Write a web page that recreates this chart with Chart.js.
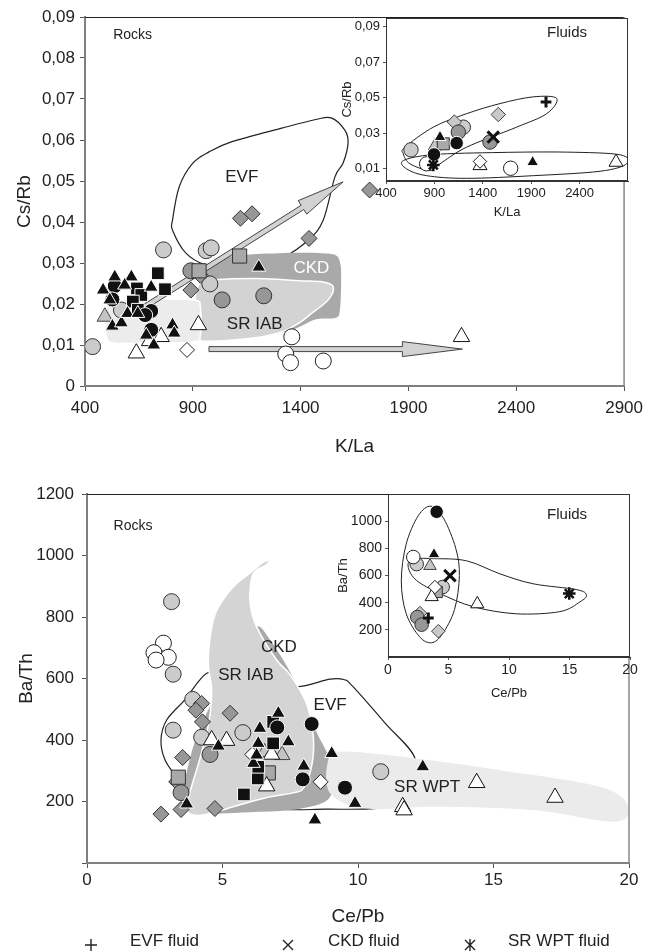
<!DOCTYPE html>
<html>
<head>
<meta charset="utf-8">
<script src="https://cdn.jsdelivr.net/npm/chart.js@4.4.1/dist/chart.umd.min.js"></script>
<style>
  body { margin: 0; background: #fff; }
  #wrap { position: relative; width: 650px; height: 952px; overflow: hidden;
          font-family: "Liberation Sans", Arial, Helvetica, sans-serif; color: #222; }
  canvas { position: absolute; }
  .leg { position: absolute; font-size: 17px; line-height: 20px; white-space: nowrap; }
  .mark { position: absolute; }
</style>
</head>
<body>
<div id="wrap">
  <canvas id="rocks1" width="650" height="470" style="left:0;top:0"></canvas>
  <canvas id="fluids1" width="320" height="225" style="left:330px;top:0"></canvas>
  <canvas id="rocks2" width="650" height="482" style="left:0;top:470px"></canvas>
  <canvas id="fluids2" width="320" height="240" style="left:330px;top:470px"></canvas>

  <svg class="mark" width="14" height="14" style="left:84px;top:938px"><path d="M7 1V13M1 7H13" stroke="#222" stroke-width="1.4"/></svg>
  <div class="leg" style="left:130px;top:931px">EVF fluid</div>
  <svg class="mark" width="14" height="14" style="left:281px;top:938px"><path d="M2 2L12 12M12 2L2 12" stroke="#222" stroke-width="1.4"/></svg>
  <div class="leg" style="left:328px;top:931px">CKD fluid</div>
  <svg class="mark" width="14" height="14" style="left:463px;top:938px"><path d="M2 2L12 12M12 2L2 12M7 1V13" stroke="#222" stroke-width="1.4"/></svg>
  <div class="leg" style="left:508px;top:931px">SR WPT fluid</div>
</div>
<script>
// ---- tick values ----
const kLaTicks = [400, 900, 1400, 1900, 2400, 2900];
const csRbTicks = [0, 0.01, 0.02, 0.03, 0.04, 0.05, 0.06, 0.07, 0.08, 0.09];
const insetKLaTicks = [400, 900, 1400, 1900, 2400];
const insetCsRbTicks = [0.01, 0.03, 0.05, 0.07, 0.09];
const cePbTicks = [0, 5, 10, 15, 20];
const baThTicks = [0, 200, 400, 600, 800, 1000, 1200];
const insetBaThTicks = [200, 400, 600, 800, 1000];

// ---- K/La vs Cs/Rb, rocks ----
const csRockBlackTri = [[484,0.0234],[538,0.0266],[615,0.0266],[584,0.0246],[707,0.0241],[515,0.021],[527,0.0146],[569,0.0154],[597,0.0177],[645,0.0177],[684,0.0124],[719,0.0100],[806,0.0149],[814,0.0129],[1206,0.029]];
const csRockBlackCircle = [[538,0.0244],[527,0.0211],[707,0.0183],[679,0.0173],[707,0.0137]];
const csRockBlackSquare = [[738,0.0275],[771,0.0236],[641,0.0238],[661,0.0222],[622,0.0206],[645,0.0186]];
const csRockWhiteDiamond = [[873,0.0088]];
const csRockWhiteTri = [[926,0.0149],[638,0.0080],[753,0.0120],[700,0.0110],[2146,0.0120]];
const csRockGrayTri = [[492,0.0169]];
const csRockWhiteCircle = [[1359,0.0120],[1331,0.0078],[1353,0.0057],[1505,0.0061]];
const csRockGraySquare = [[929,0.0281],[1117,0.0317]];
const csRockDarkCircle = [[891,0.0281],[1036,0.0210],[1229,0.0220]];
const csRockGrayDiamond = [[891,0.0234],[935,0.0270],[1121,0.0409],[1175,0.0420],[1439,0.0360],[1720,0.0478]];
const csRockLightCircle = [[435,0.0096],[764,0.0332],[962,0.0330],[985,0.0337],[979,0.0249],[569,0.0185]];

// ---- K/La vs Cs/Rb, fluids ----
const csFluidLightCircle = [[658,0.0206],[1199,0.0334]];
const csFluidDarkCircle = [[1147,0.0306],[1474,0.0250]];
const csFluidBlackCircle = [[1130,0.0244],[896,0.0180]];
const csFluidGraySquare = [[992,0.0240]];
const csFluidGrayTri = [[906,0.0227]];
const csFluidBlackTri = [[958,0.0278],[1915,0.0136]];
const csFluidLightDiamond = [[1106,0.0363],[1560,0.0405]];
const csFluidWhiteDiamond = [[1371,0.0140]];
const csFluidWhiteTri = [[1371,0.0117],[2776,0.0136]];
const csFluidWhiteCircle = [[1688,0.0102],[820,0.0127]];
const csFluidEvf = [[2053,0.0476]];
const csFluidCkd = [[1508,0.0278]];
const csFluidWpt = [[889,0.0121]];

// ---- K/La vs Cs/Rb, fields and trends ----
const csEvfOutline = [[975,0.0571],[1082,0.0596],[1313,0.0629],[1470,0.0650],[1542,0.0654],[1605,0.0624],[1620,0.0593],[1597,0.0544],[1559,0.0510],[1505,0.0405],[1436,0.0356],[1313,0.0311],[1206,0.0291],[1083,0.0287],[960,0.0295],[868,0.0324],[806,0.0380],[806,0.0405],[837,0.0486],[899,0.0543]];
const csCkdField = [[940,0.0275],[1000,0.0302],[1100,0.0318],[1300,0.0324],[1500,0.0324],[1565,0.0318],[1585,0.0295],[1588,0.0259],[1582,0.0185],[1560,0.0166],[1467,0.0162],[1350,0.0135],[1150,0.0118],[960,0.0120],[925,0.0200]];
const csIabField = [[935,0.0252],[1000,0.0259],[1200,0.0262],[1390,0.0257],[1500,0.0254],[1551,0.0242],[1528,0.0210],[1451,0.0177],[1390,0.0153],[1300,0.0130],[1150,0.0115],[929,0.0111],[905,0.0150],[912,0.0220]];
const csWptField = [[500,0.0190],[530,0.0208],[700,0.0212],[905,0.0210],[935,0.0192],[935,0.0125],[905,0.0108],[700,0.0105],[530,0.0105],[498,0.0125]];
const csArrowRise = [[667,0.019],[1597,0.0498]];
const csArrowFlat = [[975,0.009],[2150,0.009]];
const csLoopA = [[596,0.0221],[889,0.0334],[1233,0.0410],[1578,0.0467],[1922,0.0505],[2163,0.0496],[2060,0.0410],[1750,0.0334],[1233,0.0221],[958,0.0127],[855,0.0089],[648,0.0127],[579,0.0183]];
const csLoopB = [[579,0.0145],[889,0.0179],[1578,0.0191],[2267,0.0193],[2817,0.0178],[2886,0.0127],[2611,0.0085],[1922,0.0060],[1233,0.0045],[820,0.0060],[614,0.0098]];

// ---- Ce/Pb vs Ba/Th, rocks ----
const baRockBlackTri = [[4.85,380],[3.68,192],[6.38,438],[6.32,389],[7.06,487],[7.43,394],[8.0,315],[8.41,140],[6.14,324],[6.26,351],[9.03,356],[9.89,194],[12.39,313]];
const baRockBlackCircle = [[7.02,441],[8.29,452],[7.96,272],[9.52,245]];
const baRockBlackSquare = [[6.87,389],[6.87,459],[6.30,275],[5.79,223],[6.32,313]];
const baRockWhiteDiamond = [[6.10,353],[8.62,264]];
const baRockWhiteTri = [[4.60,400],[5.15,398],[6.63,250],[6.81,353],[11.65,183],[11.70,172],[14.38,261],[17.27,213]];
const baRockGrayTri = [[7.20,351],[6.55,360]];
const baRockWhiteCircle = [[2.82,715],[2.47,684],[3.00,669],[2.55,660]];
const baRockGraySquare = [[3.37,279],[6.69,293]];
const baRockDarkCircle = [[4.54,353],[3.47,229]];
const baRockGrayDiamond = [[4.23,519],[4.26,459],[4.02,497],[5.28,487],[3.53,343],[3.31,264],[2.73,159],[3.47,174],[4.72,177]];
const baRockLightCircle = [[3.12,850],[3.18,614],[3.90,532],[3.18,432],[4.23,409],[5.75,424],[10.84,297]];

// ---- Ce/Pb vs Ba/Th, fluids ----
const baFluidBlackCircle = [[4.02,1069]];
const baFluidWhiteCircle = [[2.09,736]];
const baFluidLightCircle = [[2.37,684],[4.52,515]];
const baFluidBlackTri = [[3.80,756]];
const baFluidGrayTri = [[3.47,671]];
const baFluidWhiteDiamond = [[3.88,515]];
const baFluidGraySquare = [[4.02,479]];
const baFluidWhiteTri = [[3.61,443],[7.38,390]];
const baFluidDarkCircle = [[2.42,294],[2.78,238]];
const baFluidLightDiamond = [[2.64,323],[4.16,190]];
const baFluidEvf = [[3.33,287]];
const baFluidCkd = [[5.12,599]];
const baFluidWpt = [[14.98,467]];

// ---- Ce/Pb vs Ba/Th, fields ----
const baEvfOutline = [[4.42,617],[3.6,530],[2.94,465],[2.73,400],[2.88,335],[3.3,280],[3.8,220],[5.0,190],[7.25,174],[8.8,175],[10.4,176],[10.9,190],[11.5,265],[12.1,340],[11.0,455],[9.8,575],[9.5,596],[8.97,598],[7.74,573],[6.5,590],[5.2,610]];
const baCkdField = [[6.3,770],[6.8,720],[7.5,620],[8.0,520],[8.5,420],[9.0,330],[9.1,260],[8.8,200],[7.5,172],[6.0,165],[4.5,163],[3.6,190],[3.6,260],[4.0,400],[4.6,520],[5.3,620],[5.9,720]];
const baIabField = [[6.75,985],[6.45,975],[5.9,935],[5.39,898],[4.9,840],[4.66,790],[4.5,700],[4.48,640],[4.6,560],[4.5,460],[4.2,350],[3.8,230],[3.7,170],[4.2,155],[5.4,183],[6.6,212],[7.6,228],[8.0,245],[8.3,320],[8.35,410],[8.1,519],[7.5,612],[7.0,660],[6.26,768],[6.01,855],[6.14,942],[6.6,968]];
const baWptField = [[9.34,362],[11.55,346],[15.24,302],[18.93,248],[19.98,183],[19.42,134],[16.47,172],[12.78,183],[10.32,177],[8.97,227],[8.9,335]];
const baLoopA = [[3.55,1110],[4.6,1020],[5.6,800],[5.9,600],[5.5,350],[4.5,170],[3.6,105],[2.6,150],[1.5,320],[1.1,560],[1.5,830],[2.5,1040]];
const baLoopB = [[2.0,720],[3.75,724],[6.5,708],[9.26,612],[12.0,539],[15.6,496],[16.4,455],[15.87,406],[14.2,334],[10.6,318],[7.05,370],[4.3,467],[2.37,563],[1.68,659]];

const FONT = '"Liberation Sans", Arial, Helvetica, sans-serif';
Chart.defaults.font.family = FONT;
Chart.defaults.color = '#222';

// marker looks
const STYLE = {
  evf:          { shape: 'cross',    fill: '#111', line: '#111', r: 6,   lw: 3 },
  ckd:          { shape: 'crossRot', fill: '#111', line: '#111', r: 9,   lw: 3 },
  wpt:          { shape: 'star',     fill: '#111', line: '#111', r: 7,   lw: 2.5 },
  blackTri:     { shape: 'triangle', fill: '#111', line: '#fff', r: 8 },
  blackCircle:  { shape: 'circle',   fill: '#111', line: '#fff', r: 7.5 },
  blackSquare:  { shape: 'rect',     fill: '#111', line: '#fff', r: 9 },
  whiteDiamond: { shape: 'rectRot',  fill: '#fff', line: '#222', r: 7.5 },
  whiteTri:     { shape: 'triangle', fill: '#fff', line: '#111', r: 9.5 },
  grayTri:      { shape: 'triangle', fill: '#c4c4c4', line: '#444', r: 9 },
  whiteCircle:  { shape: 'circle',   fill: '#fff', line: '#222', r: 8 },
  graySquare:   { shape: 'rect',     fill: '#a9a9a9', line: '#333', r: 10 },
  darkCircle:   { shape: 'circle',   fill: '#979797', line: '#333', r: 8 },
  grayDiamond:  { shape: 'rectRot',  fill: '#979797', line: '#333', r: 8 },
  lightDiamond: { shape: 'rectRot',  fill: '#c9c9c9', line: '#444', r: 8 },
  lightCircle:  { shape: 'circle',   fill: '#cbcbcb', line: '#333', r: 8 }
};

function series(pairs, kind, k) {
  const s = STYLE[kind];
  return {
    data: pairs.map(p => ({ x: p[0], y: p[1] })),
    pointStyle: s.shape,
    pointRadius: s.r * k,
    pointBackgroundColor: s.fill,
    pointBorderColor: s.line,
    pointBorderWidth: s.lw || 1,
    showLine: false
  };
}

// closed smooth curve through pixel points
function smoothPath(ctx, pts) {
  const n = pts.length;
  ctx.moveTo(pts[0][0], pts[0][1]);
  for (let i = 0; i < n; i++) {
    const p0 = pts[(i - 1 + n) % n], p1 = pts[i], p2 = pts[(i + 1) % n], p3 = pts[(i + 2) % n];
    ctx.bezierCurveTo(p1[0] + (p2[0] - p0[0]) / 6, p1[1] + (p2[1] - p0[1]) / 6,
                      p2[0] - (p3[0] - p1[0]) / 6, p2[1] - (p3[1] - p1[1]) / 6,
                      p2[0], p2[1]);
  }
  ctx.closePath();
}

function drawArrow(ctx, a, b, shaft, headLen, headHalf) {
  const dx = b[0] - a[0], dy = b[1] - a[1], L = Math.hypot(dx, dy);
  const ux = dx / L, uy = dy / L, nx = -uy, ny = ux;
  const bx = b[0] - ux * headLen, by = b[1] - uy * headLen;
  ctx.beginPath();
  ctx.moveTo(a[0] + nx * shaft, a[1] + ny * shaft);
  ctx.lineTo(bx + nx * shaft, by + ny * shaft);
  ctx.lineTo(bx + nx * headHalf, by + ny * headHalf);
  ctx.lineTo(b[0], b[1]);
  ctx.lineTo(bx - nx * headHalf, by - ny * headHalf);
  ctx.lineTo(bx - nx * shaft, by - ny * shaft);
  ctx.lineTo(a[0] - nx * shaft, a[1] - ny * shaft);
  ctx.closePath();
  ctx.fillStyle = '#d2d2d2';
  ctx.fill();
  ctx.strokeStyle = '#444';
  ctx.lineWidth = 1;
  ctx.stroke();
}

function overlay(cfg) {
  return {
    id: 'overlay',
    beforeDraw(chart) {
      if (!cfg.inset) return;
      const a = chart.chartArea, ctx = chart.ctx;
      ctx.save();
      ctx.fillStyle = '#fff';
      ctx.fillRect(a.left, a.top, a.width, a.height);
      ctx.restore();
    },
    beforeDatasetsDraw(chart) {
      const { ctx, chartArea: a } = chart;
      const sx = chart.scales.x, sy = chart.scales.y;
      const px = p => [sx.getPixelForValue(p[0]), sy.getPixelForValue(p[1])];
      ctx.save();
      ctx.beginPath();
      ctx.rect(a.left, a.top, a.width, a.height);
      ctx.clip();
      cfg.shapes.forEach(sh => {
        ctx.beginPath();
        smoothPath(ctx, sh.pts.map(px));
        if (sh.fill) { ctx.fillStyle = sh.fill; ctx.fill(); }
        if (sh.stroke) { ctx.strokeStyle = sh.stroke; ctx.lineWidth = sh.width || 1; ctx.stroke(); }
      });
      (cfg.arrows || []).forEach(ar => drawArrow(ctx, px(ar.pts[0]), px(ar.pts[1]), ar.shaft, ar.headLen, ar.headHalf));
      ctx.textAlign = 'center';
      ctx.textBaseline = 'middle';
      (cfg.labels || []).forEach(l => {
        const p = px(l.at);
        ctx.font = l.size + 'px ' + FONT;
        ctx.fillStyle = l.color || '#222';
        ctx.fillText(l.text, p[0], p[1]);
      });
      ctx.restore();
    },
    afterDraw(chart) {
      const { ctx, chartArea: a } = chart;
      ctx.save();
      if (cfg.inset) {
        ctx.strokeStyle = '#333';
        ctx.lineWidth = 1;
        ctx.strokeRect(a.left + 0.5, a.top + 0.5, a.width - 1, a.height - 1);
      } else {
        ctx.strokeStyle = '#222';
        ctx.lineWidth = 1;
        ctx.beginPath();
        ctx.moveTo(a.left, a.top + 0.5);
        ctx.lineTo(a.right, a.top + 0.5);
        ctx.stroke();
        ctx.strokeStyle = '#888';
        ctx.lineWidth = 1.5;
        ctx.beginPath();
        ctx.moveTo(a.right, a.top);
        ctx.lineTo(a.right, a.bottom);
        ctx.stroke();
      }
      ctx.restore();
    }
  };
}

function axes(o) {
  const border = o.inset ? { color: '#333', width: 1 } : { color: '#808080', width: 2 };
  const grid = { drawOnChartArea: false, drawTicks: true, tickLength: o.tickLen, color: '#555' };
  return {
    x: {
      type: 'linear', min: o.xMin, max: o.xMax,
      afterBuildTicks: s => { s.ticks = o.xTicks.map(v => ({ value: v })); },
      afterFit: s => { s.height = o.xHeight; },
      grid: grid, border: border,
      ticks: { font: { size: o.tickSize }, color: '#222', padding: o.xPad, maxRotation: 0, autoSkip: false, callback: o.xFmt },
      title: { display: true, text: o.xTitle, font: { size: o.titleSize }, color: '#222', padding: { top: 0, bottom: o.xTitlePad } }
    },
    y: {
      type: 'linear', min: o.yMin, max: o.yMax,
      afterBuildTicks: s => { s.ticks = o.yTicks.map(v => ({ value: v })); },
      afterFit: s => { s.width = o.yWidth; },
      grid: grid, border: border,
      ticks: { font: { size: o.tickSize }, color: '#222', padding: o.yPad, autoSkip: false, callback: o.yFmt },
      title: { display: true, text: o.yTitle, font: { size: o.titleSize }, color: '#222', padding: { top: o.yTitlePad, bottom: 0 } }
    }
  };
}

function makeChart(id, datasets, scales, padding, cfg) {
  return new Chart(document.getElementById(id), {
    type: 'scatter',
    data: { datasets: datasets },
    options: {
      responsive: false,
      animation: false,
      events: [],
      layout: { padding: padding },
      plugins: { legend: { display: false }, tooltip: { enabled: false } },
      scales: scales
    },
    plugins: [overlay(cfg)]
  });
}

const comma2 = v => (v === 0 ? '0' : v.toFixed(2).replace('.', ','));
const plain = v => String(v);

// ---------- top: K/La vs Cs/Rb, rocks ----------
makeChart('rocks1', [
  series(csRockBlackTri, 'blackTri', 1),
  series(csRockBlackCircle, 'blackCircle', 1),
  series(csRockBlackSquare, 'blackSquare', 1),
  series(csRockWhiteDiamond, 'whiteDiamond', 1),
  series(csRockWhiteTri, 'whiteTri', 1),
  series(csRockGraySquare, 'graySquare', 1),
  series(csRockGrayTri, 'grayTri', 1),
  series(csRockWhiteCircle, 'whiteCircle', 1),
  series(csRockDarkCircle, 'darkCircle', 1),
  series(csRockGrayDiamond, 'grayDiamond', 1),
  series(csRockLightCircle, 'lightCircle', 1)
], axes({
  xMin: 400, xMax: 2900, xTicks: kLaTicks, xFmt: plain, xTitle: 'K/La', xHeight: 84, xPad: 7, xTitlePad: 11.6,
  yMin: 0, yMax: 0.09, yTicks: csRbTicks, yFmt: comma2, yTitle: 'Cs/Rb', yWidth: 85, yPad: 5, yTitlePad: 13.6,
  tickLen: 5, tickSize: 17, titleSize: 19
}), { top: 17, right: 22, left: 0, bottom: 0 }, {
  shapes: [
    { pts: csEvfOutline, stroke: '#222', width: 1.2 },
    { pts: csCkdField, fill: '#a9a9a9' },
    { pts: csIabField, fill: '#d3d3d3', stroke: '#fff', width: 1.5 },
    { pts: csWptField, fill: '#ececec', stroke: '#fff', width: 1.5 }
  ],
  arrows: [
    { pts: csArrowRise, shaft: 2.5, headLen: 48, headHalf: 8 },
    { pts: csArrowFlat, shaft: 2.5, headLen: 60, headHalf: 7.5 }
  ],
  labels: [
    { text: 'Rocks', at: [621, 0.0856], size: 14 },
    { text: 'EVF', at: [1127, 0.051], size: 17 },
    { text: 'CKD', at: [1450, 0.0288], size: 17, color: '#fff' },
    { text: 'SR IAB', at: [1187, 0.0151], size: 17 }
  ]
});

// ---------- top inset: fluids ----------
makeChart('fluids1', [
  series(csFluidEvf, 'evf', 0.9),
  series(csFluidCkd, 'ckd', 0.9),
  series(csFluidWpt, 'wpt', 0.9),
  series(csFluidBlackTri, 'blackTri', 0.85),
  series(csFluidBlackCircle, 'blackCircle', 0.9),
  series(csFluidWhiteDiamond, 'whiteDiamond', 0.9),
  series(csFluidWhiteTri, 'whiteTri', 0.85),
  series(csFluidGraySquare, 'graySquare', 0.85),
  series(csFluidGrayTri, 'grayTri', 0.85),
  series(csFluidWhiteCircle, 'whiteCircle', 0.9),
  series(csFluidDarkCircle, 'darkCircle', 0.9),
  series(csFluidLightDiamond, 'lightDiamond', 0.9),
  series(csFluidLightCircle, 'lightCircle', 0.9)
], axes({
  inset: true,
  xMin: 400, xMax: 2900, xTicks: insetKLaTicks, xFmt: plain, xTitle: 'K/La', xHeight: 44, xPad: 2, xTitlePad: 5.2,
  yMin: 0.003, yMax: 0.095, yTicks: insetCsRbTicks, yFmt: comma2, yTitle: 'Cs/Rb', yWidth: 56, yPad: 3, yTitlePad: 9.2,
  tickLen: 3, tickSize: 13, titleSize: 13
}), { top: 18, right: 22, left: 0, bottom: 0 }, {
  inset: true,
  shapes: [
    { pts: csLoopA, stroke: '#222', width: 1 },
    { pts: csLoopB, stroke: '#222', width: 1 }
  ],
  labels: [ { text: 'Fluids', at: [2270, 0.0866], size: 15 } ]
});

// ---------- bottom: Ce/Pb vs Ba/Th, rocks ----------
makeChart('rocks2', [
  series(baRockBlackTri, 'blackTri', 1),
  series(baRockBlackCircle, 'blackCircle', 1),
  series(baRockBlackSquare, 'blackSquare', 1),
  series(baRockWhiteDiamond, 'whiteDiamond', 1),
  series(baRockWhiteTri, 'whiteTri', 1),
  series(baRockGraySquare, 'graySquare', 1),
  series(baRockGrayTri, 'grayTri', 1),
  series(baRockWhiteCircle, 'whiteCircle', 1),
  series(baRockDarkCircle, 'darkCircle', 1),
  series(baRockGrayDiamond, 'grayDiamond', 1),
  series(baRockLightCircle, 'lightCircle', 1)
], axes({
  xMin: 0, xMax: 20, xTicks: cePbTicks, xFmt: plain, xTitle: 'Ce/Pb', xHeight: 89, xPad: 2, xTitlePad: 23.6,
  yMin: 0, yMax: 1200, yTicks: baThTicks, yFmt: v => (v === 0 ? '' : String(v)), yTitle: 'Ba/Th', yWidth: 87, yPad: 8, yTitlePad: 15.6,
  tickLen: 5, tickSize: 17, titleSize: 19
}), { top: 24, right: 21, left: 0, bottom: 0 }, {
  shapes: [
    { pts: baEvfOutline, stroke: '#222', width: 1.2 },
    { pts: baCkdField, fill: '#a9a9a9' },
    { pts: baIabField, fill: '#d4d4d4', stroke: '#fff', width: 1.5 },
    { pts: baWptField, fill: '#ebebeb' }
  ],
  labels: [
    { text: 'Rocks', at: [1.7, 1096], size: 14 },
    { text: 'CKD', at: [7.08, 702], size: 17 },
    { text: 'SR IAB', at: [5.87, 611], size: 17 },
    { text: 'EVF', at: [8.97, 514], size: 17 },
    { text: 'SR WPT', at: [12.55, 247], size: 17 }
  ]
});

// ---------- bottom inset: fluids ----------
makeChart('fluids2', [
  series(baFluidEvf, 'evf', 0.9),
  series(baFluidCkd, 'ckd', 0.9),
  series(baFluidWpt, 'wpt', 0.9),
  series(baFluidBlackTri, 'blackTri', 0.85),
  series(baFluidBlackCircle, 'blackCircle', 0.9),
  series(baFluidWhiteDiamond, 'whiteDiamond', 0.9),
  series(baFluidWhiteTri, 'whiteTri', 0.8),
  series(baFluidGraySquare, 'graySquare', 0.8),
  series(baFluidGrayTri, 'grayTri', 0.8),
  series(baFluidWhiteCircle, 'whiteCircle', 0.85),
  series(baFluidDarkCircle, 'darkCircle', 0.85),
  series(baFluidLightDiamond, 'lightDiamond', 0.85),
  series(baFluidLightCircle, 'lightCircle', 0.85)
], axes({
  inset: true,
  xMin: 0, xMax: 20, xTicks: cePbTicks, xFmt: plain, xTitle: 'Ce/Pb', xHeight: 53, xPad: 2, xTitlePad: 9.2,
  yMin: 0, yMax: 1200, yTicks: insetBaThTicks, yFmt: plain, yTitle: 'Ba/Th', yWidth: 58, yPad: 3, yTitlePad: 5.2,
  tickLen: 3, tickSize: 14, titleSize: 13
}), { top: 24, right: 20, left: 0, bottom: 0 }, {
  inset: true,
  shapes: [
    { pts: baLoopA, stroke: '#222', width: 1 },
    { pts: baLoopB, stroke: '#222', width: 1 }
  ],
  labels: [ { text: 'Fluids', at: [14.8, 1047], size: 15 } ]
});
</script>
</body>
</html>
